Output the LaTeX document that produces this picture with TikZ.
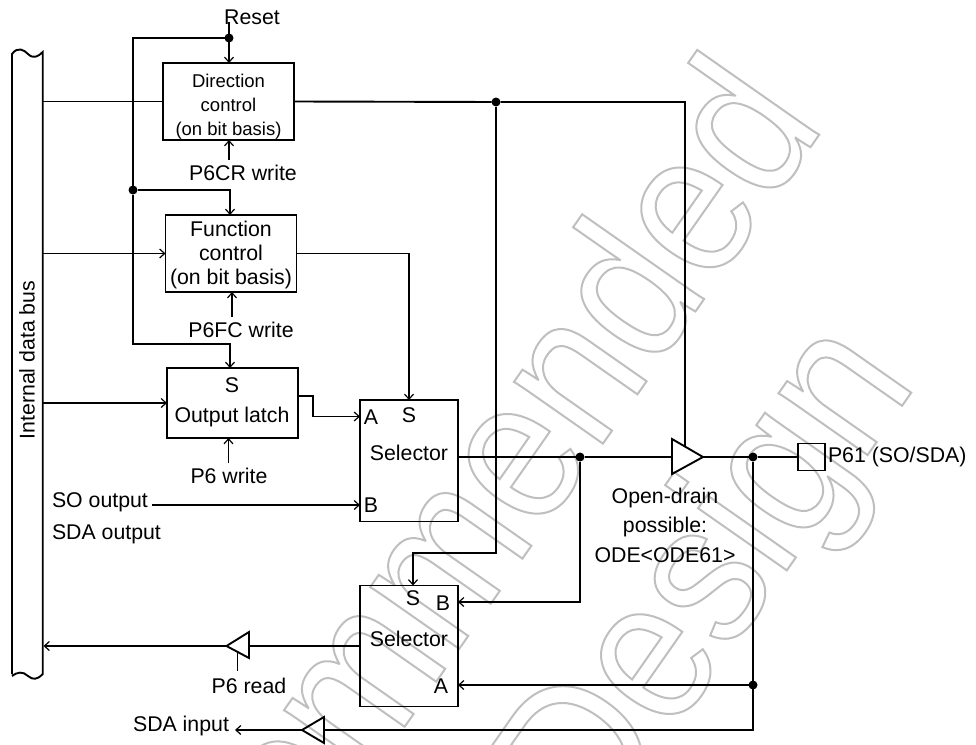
\documentclass[tikz,border=0pt]{standalone}
\usepackage{fontspec}
\setmainfont{Liberation Sans}
\newfontfamily\wmfont[FakeStretch=0.88]{Liberation Sans}
\usetikzlibrary{arrows.meta}
\newcommand{\outlinedtext}[1]{\special{pdf:code q 1 Tr 2 w 0.75 G}#1\special{pdf:code Q}}
\tikzset{
  every node/.style={inner sep=0pt,outer sep=0pt,font=\fontsize{21.3}{24}\selectfont},
  conn/.style={line width=1.9pt,line join=miter},
  arr/.style={conn,-{Straight Barb[length=5pt,width=9pt,line width=1.2pt]}},
  blockbox/.style={draw,line width=1.9pt,anchor=north west,align=center},
  junction/.style={circle,fill=black,minimum size=9pt},
  wm/.style={font=\wmfont\fontsize{205}{205}\selectfont,color=black!28,rotate=55,anchor=base east},
}
\begin{document}
\begin{tikzpicture}[x=1pt,y=-1pt]
\useasboundingbox (0,0) rectangle (976,744);
% watermark
\begin{scope}
\clip (0,0) rectangle (976,744);
\node[wm] (wm1) at (826,125) {\outlinedtext{Recommended}};
\node[wm] (wm2) at (918,383) {\outlinedtext{Design}};
\end{scope}

% data bus
\draw[conn] (12,674) -- (12,54) .. controls (18,46) and (24,50) .. (28,54) .. controls (33,59) and (38,57) .. (42.7,52) -- (42.7,674) .. controls (37,680) and (33,680) .. (28,676) .. controls (23,671) and (17,672) .. (12,676);
\node[rotate=90] (busl) at (27,360) {Internal data bus};
\coordinate (busr) at (42.7,360);

% blocks
\node[blockbox,minimum width=131pt,minimum height=77pt] (dir) at (163,63) {};
\node[align=center,font=\fontsize{18.5}{24}\selectfont] (dirt) at (228.5,107) {Direction\\control\\(on bit basis)};
\node[blockbox,minimum width=131pt,minimum height=77pt] (fun) at (165.5,215) {};
\node[align=center] (funt) at (231,254.5) {Function\\control\\(on bit basis)};
\node[blockbox,minimum width=131pt,minimum height=70pt] (lat) at (167,368) {};
\node (latS) at (232,385) {S};
\node (latT) at (232,417) {Output latch};
\node[blockbox,minimum width=98pt,minimum height=121.5pt] (sel1) at (360,400) {};
\node (s1A) at (371,417) {A};
\node (s1S) at (409,415) {S};
\node (s1T) at (409,453) {Selector};
\node (s1B) at (371,505) {B};
\node[blockbox,minimum width=98pt,minimum height=121pt] (sel2) at (360,585.5) {};
\node (s2S) at (413,598) {S};
\node (s2B) at (443,603) {B};
\node (s2T) at (409,639) {Selector};
\node (s2A) at (441,686) {A};
\node[draw,line width=1.9pt,minimum size=27pt] (pin) at (811.5,457) {};
\node[anchor=west] (pint) at (828,457) {P61 (SO/SDA)};

% labels
\node (rst) at (252,17) {Reset};
\node (cr) at (243,173) {P6CR write};
\node (fc) at (241,330) {P6FC write};
\node (pw) at (229,476) {P6 write};
\node[anchor=west] (so) at (52,502) {SO output};
\node[anchor=west] (sda) at (52,534) {SDA output};
\node (pr) at (249,686) {P6 read};
\node (sdain) at (181,726) {SDA input};
\node[align=center,font=\fontsize{21.3}{29.5}\selectfont] (od) at (665,525) {Open-drain\\possible:\\ODE<ODE61>};

% buffers
\coordinate (b1a) at (672,439); \coordinate (b1b) at (672,474); \coordinate (b1c) at (703,457);
\coordinate (b2a) at (249,632); \coordinate (b2b) at (249,658); \coordinate (b2c) at (226.5,646);
\coordinate (b3a) at (324,717); \coordinate (b3b) at (324,743); \coordinate (b3c) at (302,730);
\draw[conn] (b1a) -- (b1b) -- (b1c) -- cycle;
\draw[conn] (b2a) -- (b2b) -- (b2c) -- cycle;
\draw[conn] (b3a) -- (b3b) -- (b3c) -- cycle;

% junctions
\node[junction] (jr) at (229,38) {};
\node[junction] (jf) at (133,190) {};
\node[junction] (jd) at (496,102) {};
\node[junction] (js) at (580,457) {};
\node[junction] (jp) at (753,457) {};
\node[junction] (ja) at (753,685) {};

% connectors
\draw[arr] (229,22) -- (dir.north -| jr);
\draw[conn] (jr) -- (133,38) -- (jf) ;
\draw[arr] (jf) -- (230,190) -- (230,215);
\draw[arr] (jf) -- (133,344) -- (230,344) -- (230,368);
\draw[conn] (busr |- dir.west) -- (dir.west);
\draw[arr] (busr |- fun.west) -- (fun.west);
\draw[arr] (busr |- lat.west) -- (lat.west);
\draw[arr] (229,160) -- (229,140);
\draw[arr] (232,317) -- (232,292);
\draw[arr] (228.5,463) -- (228.5,438);
\draw[conn] (dir.east) -- (jd) -- (685,102) -- (685,447);
\draw[arr] (jd) -- (496,553) -- (413,553) -- (413,585.5);
\draw[arr] (fun.east) -- (409,253.5) -- (409,400);
\draw[arr] (lat.east |- 0,396) -- (313,396) -- (313,416.5) -- (360,416.5);
\draw[arr] (152,505) -- (360,505);
\draw[conn] (sel1.east |- 0,457) -- (js) -- (b1a |- js);
\draw[conn] (b1c) -- (jp) -- (pin.west);
\draw[arr] (js) -- (580,602) -- (458,602);
\draw[conn] (jp) -- (753,730) -- (b3a |- b3c);
\draw[arr] (ja) -- (458,685);
\draw[arr] (b3c) -- (235,730);
\draw[conn] (360,646) -- (b2a |- b2c);
\draw[arr] (b2c) -- (43.5,646);
\draw[conn] (237.5,652) -- (237.5,671);
\end{tikzpicture}
\end{document}
